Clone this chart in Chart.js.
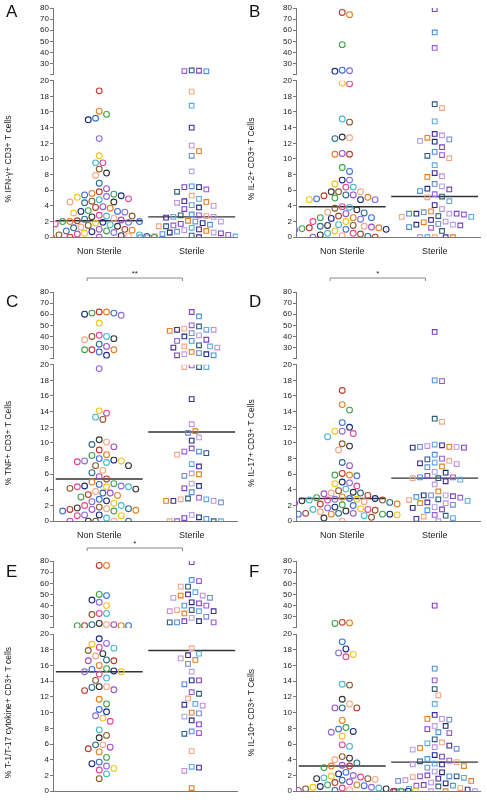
<!DOCTYPE html>
<html>
<head>
<meta charset="utf-8">
<script src="https://cdn.jsdelivr.net/npm/chart.js@4.4.0/dist/chart.umd.min.js"></script>
<style>
body{margin:0;background:#fff;width:487px;height:800px;overflow:hidden;position:relative;font-family:"Liberation Sans",Arial,sans-serif}
.panel{position:absolute;width:243px;height:280px}
.letter{position:absolute;left:6px;top:2px;font-size:17px;color:#111}
</style>
</head>
<body>
<div class="panel" style="left:0;top:0"><canvas id="cA" width="243" height="270"></canvas><div class="letter">A</div></div>
<div class="panel" style="left:243px;top:0"><canvas id="cB" width="243" height="270"></canvas><div class="letter">B</div></div>
<div class="panel" style="left:0;top:270px"><canvas id="cC" width="243" height="280"></canvas><div class="letter" style="top:22px">C</div></div>
<div class="panel" style="left:243px;top:270px"><canvas id="cD" width="243" height="280"></canvas><div class="letter" style="top:22px">D</div></div>
<div class="panel" style="left:0;top:540px"><canvas id="cE" width="243" height="280"></canvas><div class="letter" style="top:22px">E</div></div>
<div class="panel" style="left:243px;top:540px"><canvas id="cF" width="243" height="280"></canvas><div class="letter" style="top:22px">F</div></div>
<script>
const groups=["Non Sterile","Sterile"];
const lowTicks=[0,2,4,6,8,10,12,14,16,18,20];
const highTicks=[20,30,40,50,60,70,80];

const nsA=[18.7,16.1,15.7,15.2,15.0,12.6,10.4,9.5,9.5,8.7,8.2,7.9,6.9,6.2,5.8,5.6,5.5,5.4,5.3,5.2,5.1,4.9,4.8,4.6,4.5,4.5,4.4,3.9,3.8,3.7,3.4,3.3,3.3,3.2,3.1,2.8,2.7,2.7,2.6,2.4,2.3,2.2,2.1,2.0,2.0,2.0,1.9,1.9,1.8,1.7,1.6,1.5,1.4,1.3,1.2,1.0,1.0,0.9,0.8,0.8,0.7,0.6,0.5,0.4,0.3,0.3,0.2,0.1,0.1,0,0,0,0];
const sA=[23.5,23,23.2,23.8,18.6,16.8,14,11.7,11,10.4,8.4,6.4,6.4,6.5,6.1,5.8,5.3,4.9,4.6,4.4,4.5,4.1,4.0,3.8,3.6,2.9,2.8,2.8,2.7,2.6,2.5,2.6,2.1,2.0,2.0,1.8,1.7,1.6,1.5,1.4,1.4,1.2,1.0,0.9,0.8,0.7,0.6,0.6,0.5,0.4,0.3,0.2,0.1,0.1,0,0,0,0];
const nsB=[76,74,47,24,23,23.5,19.7,19.6,15.1,14.7,12.8,12.7,12.6,10.7,10.6,10.6,8.9,8.4,7.3,7.3,6.8,6.4,6.4,5.8,5.8,5.8,5.4,5.4,5.3,5.1,5.0,4.9,4.8,4.8,4.8,3.9,3.8,3.7,3.5,3.2,3.1,3.0,2.7,2.5,2.5,2.5,2.4,2.3,2.0,2.0,1.6,1.5,1.5,1.4,1.4,1.3,1.2,1.2,1.1,1.0,1.0,0.9,0.8,0.5,0.5,0.4,0.3,0.2,0.1,0,0];
const sB=[79,58,44,17,16.5,14.8,13.2,13,12.7,12.5,12.3,12.2,11.5,10.9,10.5,10.4,10.1,9.2,8.2,7.8,7.7,6.8,6.5,6.2,6.1,5.9,5.5,5.2,5.1,4.6,4.1,3.6,3.3,3.2,3.0,3.0,3.0,3.0,2.9,2.7,2.6,2.6,2.2,2.0,1.9,1.7,1.6,1.6,1.5,1.3,1.2,0.8,0,0,0,0,0];
const nsC=[62,62,61,61,60,59,52,41,40,40,38,37,33,31,28,28,28,26,23,19.5,14.1,13.8,13.3,13.0,10.4,10.1,9.8,9.5,9.1,8.5,8.4,8.0,7.8,7.7,7.7,7.6,7.5,7.1,7.1,6.5,6.2,5.7,5.4,5.0,4.8,4.7,4.5,4.5,4.4,4.4,4.4,4.2,4.1,3.8,3.6,3.6,3.4,3.3,3.1,2.8,2.6,2.5,2.3,2.0,2.0,1.8,1.7,1.6,1.6,1.5,1.5,1.4,1.3,1.3,0.8,0.8,0.7,0.7,0.4,0,0,0,0,0];
const sC=[62,58,50,49,47,46,46,46,45,43,41,40,37,36,36,32,31,31,30,30,26,25,24,24,23,23,19.9,19.7,19.7,19.7,15.6,12.4,11.5,11.3,10.7,10.3,9.3,8.9,8.9,8.7,8.5,7.3,7.0,6.1,6.0,5.8,4.8,4.5,4.2,3.7,3.0,2.9,2.8,2.8,2.6,2.6,2.6,2.4,0.8,0.5,0.4,0.3,0,0,0,0];
const nsD=[16.7,14.9,14.2,12.6,12.0,11.5,11.5,11.2,10.8,9.9,9.6,9.1,7.5,7.1,6.1,5.9,5.9,5.8,5.0,4.9,4.8,4.5,4.1,3.9,3.7,3.6,3.6,3.5,3.3,3.1,3.0,2.9,2.9,2.8,2.8,2.7,2.7,2.7,2.6,2.5,2.4,2.3,2.2,2.2,2.1,2.0,1.8,1.7,1.6,1.5,1.5,1.4,1.3,1.2,1.0,1.0,1.0,0.9,0.9,0.9,0.9,0.8,0.8,0.8,0.7,0.5,0.4,0];
const sD=[44,18.0,17.9,13.1,12.7,9.8,9.7,9.6,9.5,9.5,9.5,9.4,9.4,8.5,8.0,7.9,7.7,7.5,7.4,7.3,7.0,6.9,6.3,6.2,5.8,5.6,5.6,5.5,5.5,5.3,5.1,4.7,3.8,3.3,3.3,3.3,3.2,3.1,3.0,2.8,2.7,2.6,2.4,2.3,2.3,2.1,1.8,1.7,1.5,1.4,0.8,0.7,0.6,0.4,0.3,0];
const nsE=[76,76,50,49,45,43,40,33,33,32,24,23,23,23,22,22,22,22,19.4,18.8,18.7,18.3,18.2,17.9,17.5,17.2,16.7,16.6,16.6,16.0,15.6,15.5,15.3,15.2,15.2,14.9,14.4,14.1,13.3,13.3,13.2,12.9,12.8,11.7,11.1,10.4,10.1,9.6,9.3,8.9,7.8,7.1,6.8,5.9,5.9,5.6,5.4,5.0,4.3,3.7,3.5,3.2,2.9,2.7,2.2,1.6];
const sE=[79,63,62,57,57,52,50,49,49,47,47,43,42,40,40,36,36,35,35,35,33,30,29,26,26,25,25,25,18.2,17.5,17.3,16.9,16.7,16.2,15.2,14.1,14.1,13.6,12.6,12.4,11.8,11.1,11.0,10.9,10.0,9.9,9.5,9.0,8.5,7.6,7.4,7.3,5.1,3.1,3.0,2.6,0.4];
const nsF=[25,24.5,24,19.0,18.1,17.6,17.4,17.1,13.6,13.5,11.7,11.1,10.6,10.6,10.6,9.0,8.1,7.9,7.6,7.5,7.0,5.9,5.7,4.4,4.2,4.0,3.6,3.3,3.2,3.2,3.0,2.4,2.2,2.0,1.9,1.8,1.7,1.6,1.6,1.5,1.4,1.2,1.1,0.8,0.8,0.7,0.6,0.5,0.5,0.4,0.4,0.3,0.3,0.2,0.1,0.1,0,0,0,0,0,0,0];
const sF=[40,15.6,14.1,13.0,12.2,11.1,9.7,9.2,9.2,9.1,8.3,8.3,7.9,7.5,7.4,6.6,6.2,6.1,5.8,5.6,5.5,5.4,5.3,4.6,4.4,4.1,3.9,3.8,3.7,3.5,3.4,3.4,3.2,3.0,2.5,2.4,2.0,1.9,1.9,1.9,1.8,1.7,1.6,1.4,1.3,1.3,1.1,1.0,0.8,0.7,0.7,0.6,0.4,0.3,0.2,0,0,0,0,0];
const medians=[[2.1,2.6],[3.9,5.2],[5.4,11.4],[2.9,5.5],[15.2,17.9],[3.2,3.7]];
const titles=["% IFN-γ+ CD3+ T cells","% IL-2+ CD3+ T Cells","% TNF+ CD3+ T Cells","% IL-17+ CD3+ T Cells","% T-1/T-17 cytokine+ CD3+ T cells","% IL-10+ CD3+ T Cells"];
const signif=[null,null,"**","*","*",null];

const nsColors=['#c0392b','#e67e22','#3fa34d','#3a6fd8','#1c2a80','#8a6bdc','#f0c419','#e84393','#45b8d0','#8b5a2b','#333333','#f4a582','#2c6e8f','#a04fc9'];
const sColors=['#7b3fc4','#4a90e2','#9b59d6','#2c5a7a','#f4a582','#5aa9e6','#3d2a9c','#c08fe0','#e67e22','#6d8fcf','#b3a0e8','#1c2a80'];

// beeswarm placement in pixel space
function lowPx(v){return v<=20?v*7.75:155+6+(v-20)*1.1;}
function swarm(vals,center){
  const placed=[];const out=[];
  const sorted=vals.map((v,i)=>({v,i})).sort((a,b)=>b.v-a.v);
  sorted.forEach(p=>{
    const py=lowPx(p.v);let off=0;
    for(let k=0;k<40;k++){
      const cand=(k%2?1:-1)*Math.ceil(k/2)*3.7;
      if(placed.every(q=>Math.hypot(q.x-cand,q.y-py)>=7)){off=cand;break;}
    }
    placed.push({x:off,y:py});
    out[p.i]={x:center+off/93.5,y:p.v};
  });
  return out;
}

const sigPlugin={id:'sig',afterDraw(chart){
  const s=chart.options.plugins.sig;if(!s||!s.text)return;
  const c=chart.ctx,x=chart.scales.x;
  const x1=x.getPixelForValue(0.87),x2=x.getPixelForValue(1.9),y=8;
  c.save();c.strokeStyle='#888';c.lineWidth=1;
  c.beginPath();c.moveTo(x1,y+3);c.lineTo(x1,y);c.lineTo(x2,y);c.lineTo(x2,y+3);c.stroke();
  c.fillStyle='#222';c.font='8px "Liberation Sans"';c.textAlign='center';
  c.fillText(s.text,(x1+x2)/2,y-2);c.restore();
}};

function makeChart(id,ns,st,k,padTop,padBottom){
  const nsPts=swarm(ns,1),sPts=swarm(st,2);
  const col=(arr,pal)=>arr.map((p,i)=>pal[i%pal.length]);
  const nsCol=col(nsPts,nsColors),sCol=col(sPts,sColors);
  const part=(pts,cols,hi)=>{const d=[],c=[];pts.forEach((p,i)=>{if((p.y>20)===hi){d.push(p);c.push(cols[i]);}});return {d,c};};
  const ds=[];
  [[nsPts,nsCol,'circle',2.9],[sPts,sCol,'rect',3.3]].forEach(([pts,cols,style,r])=>{
    [false,true].forEach(hi=>{
      const q=part(pts,cols,hi);
      ds.push({type:'scatter',data:q.d,yAxisID:hi?'yHigh':'yLow',pointStyle:style,pointRadius:r,
        pointBorderWidth:1.1,pointBorderColor:q.c,pointBackgroundColor:'rgba(0,0,0,0)'});
    });
  });
  medians[k].forEach((m,g)=>{
    ds.push({type:'line',data:[{x:g+1-0.47,y:m},{x:g+1+0.47,y:m}],yAxisID:'yLow',borderColor:'#333',borderWidth:1.4,pointRadius:0});
  });
  const tickFont={family:'"Liberation Sans"',size:8};
  const yBase={type:'linear',position:'left',stack:'y',
    border:{color:'#777'},grid:{drawOnChartArea:false,tickLength:3,color:'#777'},
    afterFit(s){s.width=53;}};
  new Chart(document.getElementById(id),{
    data:{datasets:ds},
    plugins:[sigPlugin],
    options:{responsive:false,animation:false,
      layout:{padding:{top:padTop,bottom:padBottom,right:3}},
      plugins:{legend:{display:false},tooltip:{enabled:false},sig:{text:signif[k]}},
      scales:{
        x:{type:'linear',min:0.5,max:2.5,border:{color:'#777'},grid:{display:false},
          afterBuildTicks(s){s.ticks=[{value:1},{value:2}];},
          ticks:{font:{family:'"Liberation Sans"',size:9},color:'#222',padding:1,autoSkip:false,maxRotation:0,callback:v=>groups[v-1]}},
        yLow:Object.assign({},yBase,{min:0,max:20,stackWeight:155,
          afterBuildTicks(s){s.ticks=lowTicks.map(v=>({value:v}));},
          ticks:{font:tickFont,color:'#222',padding:1,autoSkip:false},
          title:{display:true,text:titles[k],font:{family:'"Liberation Sans"',size:8.5},color:'#222',padding:{bottom:6}}}),
        yGap:{type:'linear',position:'left',stack:'y',stackWeight:6,min:0,max:1,
          border:{display:false},grid:{display:false},ticks:{display:false},afterFit(s){s.width=53;}},
        yHigh:Object.assign({},yBase,{min:20,max:80,stackWeight:66,
          afterBuildTicks(s){s.ticks=highTicks.map(v=>({value:v}));},
          ticks:{font:tickFont,color:'#222',padding:1,autoSkip:false,callback:v=>v===20?'':v}})
      }}
  });
}
makeChart('cA',nsA,sA,0,8,12);
makeChart('cB',nsB,sB,1,8,12);
makeChart('cC',nsC,sC,2,22,8);
makeChart('cD',nsD,sD,3,22,8);
makeChart('cE',nsE,sE,4,21,8);
makeChart('cF',nsF,sF,5,21,8);
</script>
</body>
</html>
